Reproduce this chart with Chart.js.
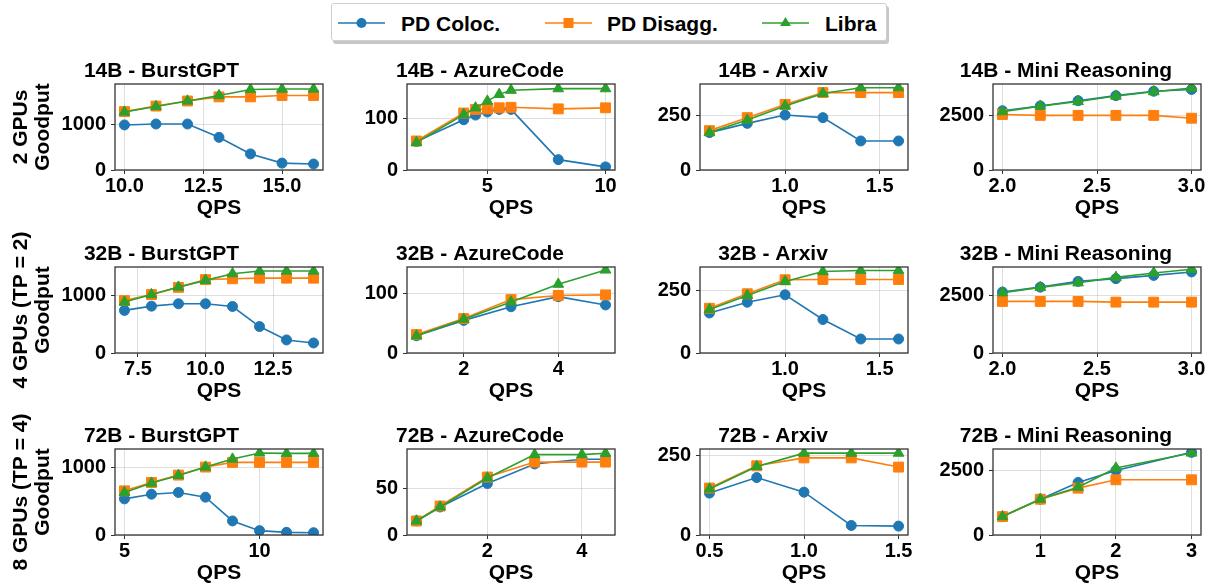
<!DOCTYPE html>
<html>
<head>
<meta charset="utf-8">
<script src="https://cdn.jsdelivr.net/npm/chart.js@4.4.1/dist/chart.umd.min.js"></script>
<style>
  body { margin: 0; background: #fff; }
  #page { position: relative; width: 1211px; height: 588px; overflow: hidden; font-family: 'Liberation Sans', Arial, sans-serif; font-weight: bold; }
  canvas { position: absolute; }
  #legend { position: absolute; left: 331px; top: 3px; width: 554px; height: 36px; border: 1px solid #cfcfcf; border-radius: 3px; background: #fff; box-shadow: 2px 3px 0 rgba(0,0,0,0.22); }
  .lg-mark { position: absolute; top: 11px; }
  .lg-text { position: absolute; top: 8px; font-size: 21px; line-height: 24px; color: #000; }
</style>
</head>
<body>
<div id="page">
  <div id="legend"></div>
</div>
<script>
// ---- data ----
const seriesNames = ['PD Coloc.', 'PD Disagg.', 'Libra'];
const rowLabels = ['2 GPUs', '4 GPUs (TP = 2)', '8 GPUs (TP = 4)'];

// 14B
const qps14Burst = [10, 11, 12, 13, 14, 15, 16];
const coloc14Burst = [980, 1000, 1000, 710, 350, 150, 130];
const disagg14Burst = [1270, 1390, 1500, 1590, 1590, 1620, 1620];
const libra14Burst = [1260, 1380, 1500, 1620, 1750, 1760, 1760];

const qps14Azure = [2, 4, 4.5, 5, 5.5, 6, 8, 10];
const coloc14Azure = [55, 97, 106, 112, 117, 117, 20, 6];
const disagg14Azure = [56, 110, 117, 118, 120, 121, 118, 120];
const libra14Azure = [53, 107, 120, 133, 146, 154, 157, 157];

const qps14Arxiv = [0.6, 0.8, 1.0, 1.2, 1.4, 1.6];
const coloc14Arxiv = [170, 212, 250, 238, 132, 132];
const disagg14Arxiv = [179, 238, 298, 352, 352, 352];
const libra14Arxiv = [170, 227, 291, 348, 374, 374];

const qps14Mini = [2.0, 2.2, 2.4, 2.6, 2.8, 3.0];
const coloc14Mini = [2700, 2920, 3160, 3390, 3590, 3670];
const disagg14Mini = [2530, 2490, 2490, 2490, 2490, 2360];
const libra14Mini = [2660, 2910, 3120, 3370, 3570, 3730];

// 32B
const qps32Burst = [7, 8, 9, 10, 11, 12, 13, 14];
const coloc32Burst = [740, 814, 855, 855, 808, 459, 227, 174];
const disagg32Burst = [910, 1015, 1140, 1275, 1290, 1300, 1300, 1300];
const libra32Burst = [885, 1015, 1145, 1262, 1378, 1424, 1424, 1424];

const qps32Azure = [1, 2, 3, 4, 5];
const coloc32Azure = [29, 55, 78, 95, 81];
const disagg32Azure = [31, 58, 90, 97, 98];
const libra32Azure = [29, 57, 86, 116, 140];

const qps32Arxiv = [0.6, 0.8, 1.0, 1.2, 1.4, 1.6];
const coloc32Arxiv = [160, 203, 233, 134, 56, 56];
const disagg32Arxiv = [179, 237, 293, 294, 294, 294];
const libra32Arxiv = [174, 230, 286, 326, 330, 330];

const qps32Mini = [2.0, 2.2, 2.4, 2.6, 2.8, 3.0];
const coloc32Mini = [2645, 2860, 3110, 3230, 3370, 3520];
const disagg32Mini = [2240, 2240, 2240, 2210, 2210, 2210];
const libra32Mini = [2615, 2850, 3050, 3285, 3475, 3635];

// 72B
const qps72Burst = [5, 6, 7, 8, 9, 10, 11, 12];
const coloc72Burst = [532, 601, 626, 557, 207, 64, 39, 34];
const disagg72Burst = [650, 773, 882, 1000, 1069, 1069, 1069, 1069];
const libra72Burst = [626, 764, 877, 1000, 1118, 1207, 1202, 1202];

const qps72Azure = [0.5, 1, 2, 3, 4, 4.5];
const coloc72Azure = [15, 30, 55, 76, 81, 81];
const disagg72Azure = [15, 31, 62, 78, 78, 78];
const libra72Azure = [15, 30, 61, 86, 86, 87.5];

const qps72Arxiv = [0.5, 0.75, 1.0, 1.25, 1.5];
const coloc72Arxiv = [132, 181, 135, 30, 28];
const disagg72Arxiv = [148, 218, 243, 243, 214];
const libra72Arxiv = [145, 216, 258, 258, 258];

const qps72Mini = [0.5, 1, 1.5, 2, 3];
const coloc72Mini = [716, 1393, 2044, 2513, 3216];
const disagg72Mini = [716, 1393, 1823, 2148, 2148];
const libra72Mini = [716, 1393, 1862, 2604, 3190];

// tick values and labels
const xTicks14Burst = [10, 12.5, 15], xLabels14Burst = ['10.0', '12.5', '15.0'];
const xTicks14Azure = [5, 10], xLabels14Azure = ['5', '10'];
const xTicksArxiv = [1.0, 1.5], xLabelsArxiv = ['1.0', '1.5'];
const xTicksMini = [2.0, 2.5, 3.0], xLabelsMini = ['2.0', '2.5', '3.0'];
const xTicks32Burst = [7.5, 10, 12.5], xLabels32Burst = ['7.5', '10.0', '12.5'];
const xTicksAzure = [2, 4], xLabelsAzure = ['2', '4'];
const xTicks72Burst = [5, 10], xLabels72Burst = ['5', '10'];
const xTicks72Arxiv = [0.5, 1.0, 1.5], xLabels72Arxiv = ['0.5', '1.0', '1.5'];
const xTicks72Mini = [1, 2, 3], xLabels72Mini = ['1', '2', '3'];

const yTicksBurst = [0, 1000];
const yTicksAzure = [0, 100];
const yTicksAzure72 = [0, 50];
const yTicksArxiv = [0, 250];
const yTicksMini = [0, 2500];

// ---- layout / style ----
const FONT = "'Liberation Sans', Arial, Helvetica, sans-serif";
const colors = ['#1f77b4', '#ff7f0e', '#2ca02c'];
const markers = ['circle', 'rect', 'triangle'];
const markerR = [5, 7, 6.2];
const gridColor = 'rgba(176,176,176,0.4)';
const colLeft = [115, 407, 700, 993];
const rowTop = [84, 267, 449];
const axW = 208, axH = 86;

const panels = [
  [0, 0, '14B - BurstGPT', qps14Burst, [coloc14Burst, disagg14Burst, libra14Burst], xTicks14Burst, xLabels14Burst, yTicksBurst, 1870],
  [0, 1, '14B - AzureCode', qps14Azure, [coloc14Azure, disagg14Azure, libra14Azure], xTicks14Azure, xLabels14Azure, yTicksAzure, 166],
  [0, 2, '14B - Arxiv', qps14Arxiv, [coloc14Arxiv, disagg14Arxiv, libra14Arxiv], xTicksArxiv, xLabelsArxiv, yTicksArxiv, 391],
  [0, 3, '14B - Mini Reasoning', qps14Mini, [coloc14Mini, disagg14Mini, libra14Mini], xTicksMini, xLabelsMini, yTicksMini, 3920],
  [1, 0, '32B - BurstGPT', qps32Burst, [coloc32Burst, disagg32Burst, libra32Burst], xTicks32Burst, xLabels32Burst, yTicksBurst, 1494],
  [1, 1, '32B - AzureCode', qps32Azure, [coloc32Azure, disagg32Azure, libra32Azure], xTicksAzure, xLabelsAzure, yTicksAzure, 145],
  [1, 2, '32B - Arxiv', qps32Arxiv, [coloc32Arxiv, disagg32Arxiv, libra32Arxiv], xTicksArxiv, xLabelsArxiv, yTicksArxiv, 344],
  [1, 3, '32B - Mini Reasoning', qps32Mini, [coloc32Mini, disagg32Mini, libra32Mini], xTicksMini, xLabelsMini, yTicksMini, 3735],
  [2, 0, '72B - BurstGPT', qps72Burst, [coloc72Burst, disagg72Burst, libra72Burst], xTicks72Burst, xLabels72Burst, yTicksBurst, 1266],
  [2, 1, '72B - AzureCode', qps72Azure, [coloc72Azure, disagg72Azure, libra72Azure], xTicksAzure, xLabelsAzure, yTicksAzure72, 92],
  [2, 2, '72B - Arxiv', qps72Arxiv, [coloc72Arxiv, disagg72Arxiv, libra72Arxiv], xTicks72Arxiv, xLabels72Arxiv, yTicksArxiv, 271],
  [2, 3, '72B - Mini Reasoning', qps72Mini, [coloc72Mini, disagg72Mini, libra72Mini], xTicks72Mini, xLabels72Mini, yTicksMini, 3346]
];

Chart.defaults.font.family = FONT;
Chart.defaults.font.weight = 'bold';
Chart.defaults.color = '#000';

// full box around the plot area, like matplotlib spines
const boxPlugin = {
  id: 'box',
  afterDraw(chart) {
    const a = chart.chartArea, ctx = chart.ctx;
    ctx.save();
    ctx.strokeStyle = '#333';
    ctx.lineWidth = 1.3;
    ctx.strokeRect(a.left, a.top, a.right - a.left, a.bottom - a.top);
    ctx.restore();
  }
};

const page = document.getElementById('page');

panels.forEach(([r, c, title, xs, ys, xt, xl, yt, yMax]) => {
  const padL = c === 0 ? 115 : 62;
  const padR = c === 3 ? 10 : 24;
  const canvas = document.createElement('canvas');
  canvas.width = padL + axW + padR;
  canvas.height = 40 + axH + 52;
  canvas.style.left = (colLeft[c] - padL) + 'px';
  canvas.style.top = (rowTop[r] - 40) + 'px';
  page.appendChild(canvas);

  const span = xs[xs.length - 1] - xs[0];
  const datasets = ys.map((vals, k) => ({
    label: seriesNames[k],
    data: xs.map((x, i) => ({ x: x, y: vals[i] })),
    borderColor: colors[k],
    backgroundColor: colors[k],
    pointBackgroundColor: colors[k],
    pointBorderColor: colors[k],
    borderWidth: 1.6,
    pointStyle: markers[k],
    pointRadius: markerR[k],
    pointBorderWidth: 1,
    tension: 0,
    order: 2 - k
  }));

  new Chart(canvas.getContext('2d'), {
    type: 'line',
    data: { datasets: datasets },
    plugins: [boxPlugin],
    options: {
      responsive: false,
      animation: false,
      layout: { padding: { left: 0, right: padR, top: 14, bottom: 0 } },
      plugins: {
        legend: { display: false },
        tooltip: { enabled: false },
        title: {
          display: true,
          text: title,
          color: '#000',
          font: { size: 21, weight: 'bold', lineHeight: '26px' },
          padding: 0
        }
      },
      scales: {
        x: {
          type: 'linear',
          min: xs[0] - 0.05 * span,
          max: xs[xs.length - 1] + 0.05 * span,
          afterBuildTicks: s => { s.ticks = xt.map(v => ({ value: v })); },
          afterFit: s => { s.height = 52; },
          border: { display: false },
          grid: { color: gridColor, lineWidth: 1, drawTicks: true, tickLength: 4, tickColor: '#333', tickWidth: 1 },
          ticks: {
            autoSkip: false, maxRotation: 0, padding: 0, color: '#000',
            font: { size: 20, weight: 'bold' },
            callback: v => xl[xt.indexOf(v)]
          },
          title: { display: true, text: 'QPS', color: '#000', font: { size: 21, weight: 'bold' }, padding: { top: 0, bottom: 1 } }
        },
        y: {
          type: 'linear',
          min: 0,
          max: yMax,
          afterBuildTicks: s => { s.ticks = yt.map(v => ({ value: v })); },
          afterFit: s => { s.width = padL; },
          border: { display: false },
          grid: { color: gridColor, lineWidth: 1, drawTicks: true, tickLength: 4, tickColor: '#333', tickWidth: 1 },
          ticks: {
            autoSkip: false, padding: 5, color: '#000',
            font: { size: 20, weight: 'bold' },
            callback: v => String(v)
          },
          title: {
            display: c === 0,
            text: [rowLabels[r], 'Goodput'],
            color: '#000',
            font: { size: 21, weight: 'bold', lineHeight: '22px' },
            padding: { top: 10, bottom: 0 }
          }
        }
      }
    }
  });
});

// ---- legend ----
const legend = document.getElementById('legend');
const lgLine = [338, 545, 762];
const lgText = [401, 607, 825];
seriesNames.forEach((name, k) => {
  const svgNS = 'http://www.w3.org/2000/svg';
  const svg = document.createElementNS(svgNS, 'svg');
  svg.setAttribute('width', 47);
  svg.setAttribute('height', 16);
  svg.setAttribute('class', 'lg-mark');
  svg.style.left = (lgLine[k] - 332) + 'px';
  const line = document.createElementNS(svgNS, 'line');
  line.setAttribute('x1', 0); line.setAttribute('x2', 47);
  line.setAttribute('y1', 8); line.setAttribute('y2', 8);
  line.setAttribute('stroke', colors[k]); line.setAttribute('stroke-width', 1.6);
  svg.appendChild(line);
  let m;
  if (k === 0) {
    m = document.createElementNS(svgNS, 'circle');
    m.setAttribute('cx', 23.5); m.setAttribute('cy', 8); m.setAttribute('r', 5);
  } else if (k === 1) {
    m = document.createElementNS(svgNS, 'rect');
    m.setAttribute('x', 18.5); m.setAttribute('y', 3); m.setAttribute('width', 10); m.setAttribute('height', 10);
  } else {
    m = document.createElementNS(svgNS, 'polygon');
    m.setAttribute('points', '23.5,2 29,11 18,11');
  }
  m.setAttribute('fill', colors[k]);
  svg.appendChild(m);
  legend.appendChild(svg);

  const t = document.createElement('div');
  t.className = 'lg-text';
  t.style.left = (lgText[k] - 332) + 'px';
  t.textContent = name;
  legend.appendChild(t);
});
</script>
</body>
</html>
